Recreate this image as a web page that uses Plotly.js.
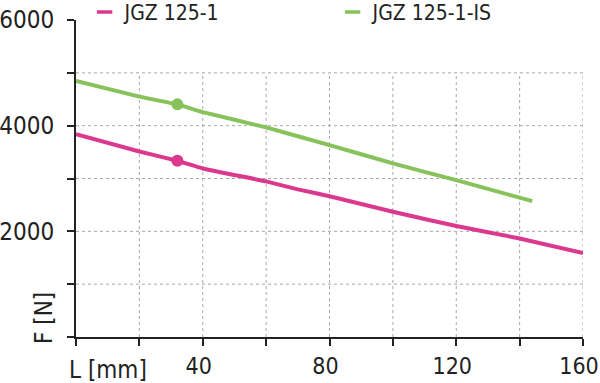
<!DOCTYPE html>
<html>
<head>
<meta charset="utf-8">
<script src="https://cdn.plot.ly/plotly-3.0.1.min.js"></script>
<style>html,body{margin:0;padding:0;background:#fff;}#chart{width:600px;height:383px;}</style>
</head>
<body>
<div id="chart"></div>
<script>
// Data
const seriesNames = ["JGZ 125-1", "JGZ 125-1-IS"];
const pinkX = [0, 20, 32, 40, 60, 70, 80, 100, 120, 140, 160];
const pinkY = [3840, 3510, 3335, 3190, 2945, 2795, 2665, 2370, 2100, 1865, 1590];
const greenX = [0, 20, 32, 40, 60, 80, 100, 120, 144];
const greenY = [4845, 4550, 4403, 4257, 3967, 3632, 3285, 2969, 2571];
const pinkDotX = [32], pinkDotY = [3335];
const greenDotX = [32], greenDotY = [4403];
const xTicks = [0, 20, 40, 60, 80, 100, 120, 140, 160];
const xTickText = ["", "", "40", "", "80", "", "120", "", "160"];
const yTicks = [0, 1000, 2000, 3000, 4000, 5000, 6000];
const yTickText = ["", "", "2000", "", "4000", "", "6000"];
const gridX = [20, 40, 60, 80, 100, 120, 140, 160];
const gridY = [1000, 2000, 3000, 4000, 5000];
const gridTopY = 5000, gridRightX = 160;

const PINK = "#da398d", GREEN = "#87c25a";
const FONT = "'Liberation Sans Narrow', 'DejaVu Sans Condensed', 'Roboto Condensed', Lato, sans-serif";

const traces = [
  {x: pinkX, y: pinkY, mode: "lines", line: {color: PINK, width: 4, shape: "spline", smoothing: 0.3}, showlegend: false, hoverinfo: "skip"},
  {x: greenX, y: greenY, mode: "lines", line: {color: GREEN, width: 4, shape: "spline", smoothing: 0.3}, showlegend: false, hoverinfo: "skip"},
  {x: pinkDotX, y: pinkDotY, mode: "markers", marker: {color: PINK, size: 12}, showlegend: false, hoverinfo: "skip"},
  {x: greenDotX, y: greenDotY, mode: "markers", marker: {color: GREEN, size: 12}, showlegend: false, hoverinfo: "skip"},
  {x: [null], y: [null], name: seriesNames[0], mode: "markers", marker: {symbol: "line-ew-open", size: 11, color: PINK, line: {color: PINK, width: 3.5}}},
  {x: [null], y: [null], name: seriesNames[1], mode: "markers", marker: {symbol: "line-ew-open", size: 11, color: GREEN, line: {color: GREEN, width: 3.5}}}
];

const shapes = [];
gridY.forEach(v => shapes.push({type: "line", xref: "x", yref: "y", x0: 0, x1: gridRightX, y0: v, y1: v, layer: "below", line: {color: "#a8a8a8", width: 1, dash: "3px,3px"}}));
gridX.forEach(v => shapes.push({type: "line", xref: "x", yref: "y", x0: v, x1: v, y0: 0, y1: gridTopY, layer: "below", line: {color: "#a8a8a8", width: 1, dash: "3px,3px"}}));

const layout = {
  width: 600, height: 383,
  margin: {l: 75.5, r: 17, t: 20, b: 46, autoexpand: false},
  paper_bgcolor: "#fff", plot_bgcolor: "#fff",
  font: {family: FONT, size: 24, color: "#222"},
  showlegend: true,
  legend: {orientation: "h", xref: "container", yref: "container", x: 0.141, xanchor: "left", y: 0.968, yanchor: "middle",
           entrywidth: 203, entrywidthmode: "pixels", font: {family: FONT, size: 21, color: "#222"},
           bgcolor: "rgba(0,0,0,0)"},
  xaxis: {range: [0, 160], tickmode: "array", tickvals: xTicks, ticktext: xTickText,
          showgrid: false, zeroline: false, showline: true, linecolor: "#222", linewidth: 2,
          ticks: "outside", ticklen: 7, tickwidth: 2, tickcolor: "#222", ticklabeloverflow: "allow",
          ticklabelshift: -4,
          tickfont: {family: FONT, size: 23, color: "#222"}, fixedrange: true},
  yaxis: {range: [0, 6000], tickmode: "array", tickvals: yTicks, ticktext: yTickText,
          showgrid: false, zeroline: false, showline: true, linecolor: "#222", linewidth: 2,
          ticks: "outside", ticklen: 7, tickwidth: 2, tickcolor: "#222", ticklabelstandoff: 8, ticklabeloverflow: "allow", fixedrange: true},
  shapes: shapes,
  annotations: [
    {text: "L [mm]", xref: "paper", yref: "paper", x: -0.017, y: 0, yshift: -33, xanchor: "left", yanchor: "middle", showarrow: false, font: {family: FONT, size: 24, color: "#222"}},
    {text: "F [N]", xref: "paper", yref: "paper", x: 0, xshift: -32, y: 0.06, xanchor: "center", yanchor: "middle", textangle: -90, showarrow: false, font: {family: FONT, size: 24, color: "#222"}}
  ]
};

Plotly.newPlot("chart", traces, layout, {displayModeBar: false, staticPlot: true});
</script>
</body>
</html>
